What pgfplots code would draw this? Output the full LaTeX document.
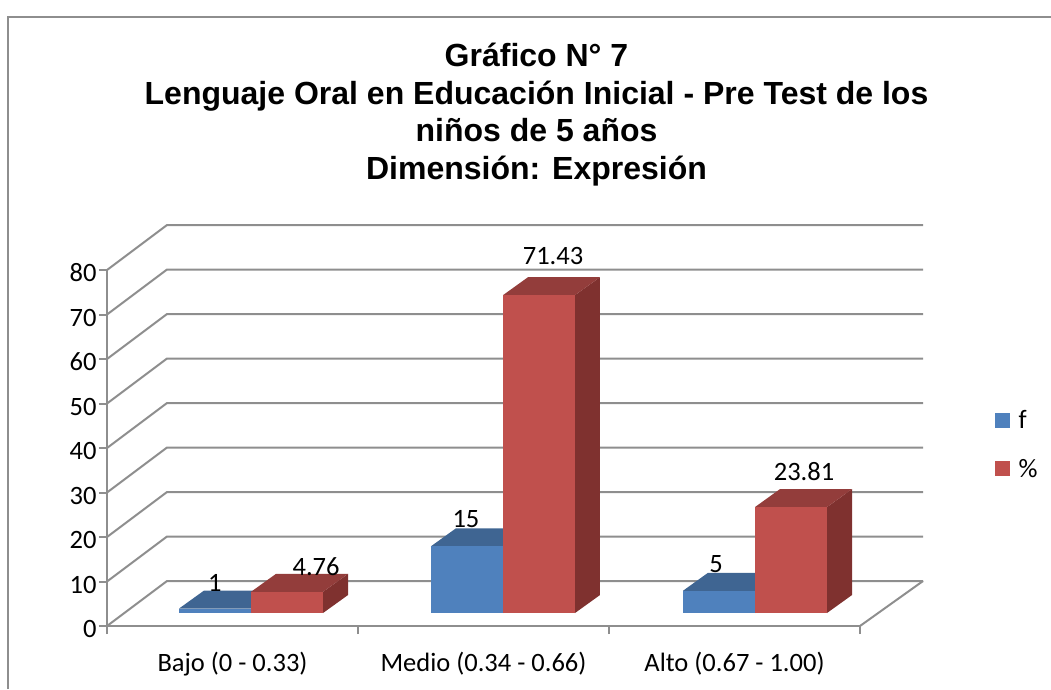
\documentclass[border=0pt]{standalone}
\usepackage{fontspec}
\setmainfont{Carlito}
\newfontfamily\titlefont{Liberation Sans}
\usepackage{pgfplots}
\pgfplotsset{compat=1.18}
\definecolor{gridgray}{HTML}{8E8E8E}
\definecolor{bf}{HTML}{4F81BD}
\definecolor{bt}{HTML}{3F6592}
\definecolor{bs}{HTML}{36577E}
\definecolor{rf}{HTML}{C0504D}
\definecolor{rt}{HTML}{933D3B}
\definecolor{rs}{HTML}{7F312F}
% #1 left, #2 right, #3 value, #4 front, #5 top, #6 side
\newcommand{\barthree}[6]{%
  \addplot[fill=#6,draw=none,forget plot] coordinates {(#2,2.92) (#2+0.0996,6.96) (#2+0.0996,6.96+#3) (#2,2.92+#3)} --cycle;
  \addplot[fill=#5,draw=none,forget plot] coordinates {(#1,2.92+#3) (#1+0.0996,6.96+#3) (#2+0.0996,6.96+#3) (#2,2.92+#3)} --cycle;
  \addplot[fill=#4,draw=none,forget plot] coordinates {(#1,2.92) (#2,2.92) (#2,2.92+#3) (#1,2.92+#3)} --cycle;
}
\begin{document}
\begin{tikzpicture}[x=1pt,y=1pt]
\path[use as bounding box] (0,0) rectangle (1051,689);
\draw[gridgray,line width=2pt] (8,0) -- (8,672) -- (1051,672);
\node[font=\titlefont\bfseries\fontsize{32}{37.5}\selectfont,align=center,anchor=center] at (536.5,574.5)
  {Gráfico N° 7\\Lenguaje Oral en Educación Inicial - Pre Test de los\\niños de 5 años\\Dimensión: Expresión};
\begin{axis}[
  at={(107pt,63pt)},anchor=south west,
  scale only axis,width=753pt,height=356pt,
  xmin=0,xmax=3,ymin=0,ymax=80,
  clip=false,
  axis lines*=left,
  axis line style={draw=gridgray,line width=2pt,-},
  every tick/.style={draw=gridgray,line width=2pt},
  tick align=outside,
  major tick length=8pt,
  minor tick length=8pt,
  xtick={0.5,1.5,2.5},
  xticklabels={Bajo (0 - 0.33),Medio (0.34 - 0.66),Alto (0.67 - 1.00)},
  x tick style={draw=none},
  minor xtick={0,1,2,3},
  minor x tick style={draw=gridgray,line width=2pt},
  ytick={0,10,...,80},
  tick label style={font=\fontsize{26.5}{30}\selectfont},
  /pgf/number format/assume math mode=true,
  xticklabel style={yshift=-15pt},
  yticklabel style={xshift=1pt,yshift=-3pt},
  legend style={at={(axis cs:3.527,49.4)},anchor=north west,draw=none,fill=none,
    font=\fontsize{26.5}{30}\selectfont,row sep=25pt},
  legend cell align=left,
  legend image code/.code={\fill[#1,draw=none] (0pt,-7.5pt) rectangle (15pt,7.5pt);\path (21pt,0pt);},
]
\pgfplotsinvokeforeach{0,10,20,30,40,50,60,70,80}{
  \addplot[gridgray,line width=2pt,forget plot] coordinates {(0,#1) (0.239,#1+10.11) (3.251,#1+10.11)};
}
\addplot[gridgray,line width=2pt,forget plot] coordinates {(3,0) (3.251,10.11)};
\barthree{0.2869}{0.5737}{1}{bf}{bt}{bs}
\barthree{0.5737}{0.8606}{4.76}{rf}{rt}{rs}
\barthree{1.2908}{1.5777}{15}{bf}{bt}{bs}
\barthree{1.5777}{1.8645}{71.43}{rf}{rt}{rs}
\barthree{2.2948}{2.5817}{5}{bf}{bt}{bs}
\barthree{2.5817}{2.8685}{23.81}{rf}{rt}{rs}
\addlegendimage{fill=bf}\addlegendentry{f}
\addlegendimage{fill=rf}\addlegendentry{\%}
\begin{scope}[every node/.style={font=\fontsize{26.5}{30}\selectfont,anchor=center,inner sep=0pt}]
\node at (axis cs:0.430,9.7) {1};
\node at (axis cs:0.833,13.3) {4.76};
\node at (axis cs:1.430,24) {15};
\node at (axis cs:1.777,83.1) {71.43};
\node at (axis cs:2.427,14) {5};
\node at (axis cs:2.777,34.6) {23.81};
\end{scope}
\end{axis}
\end{tikzpicture}
\end{document}
